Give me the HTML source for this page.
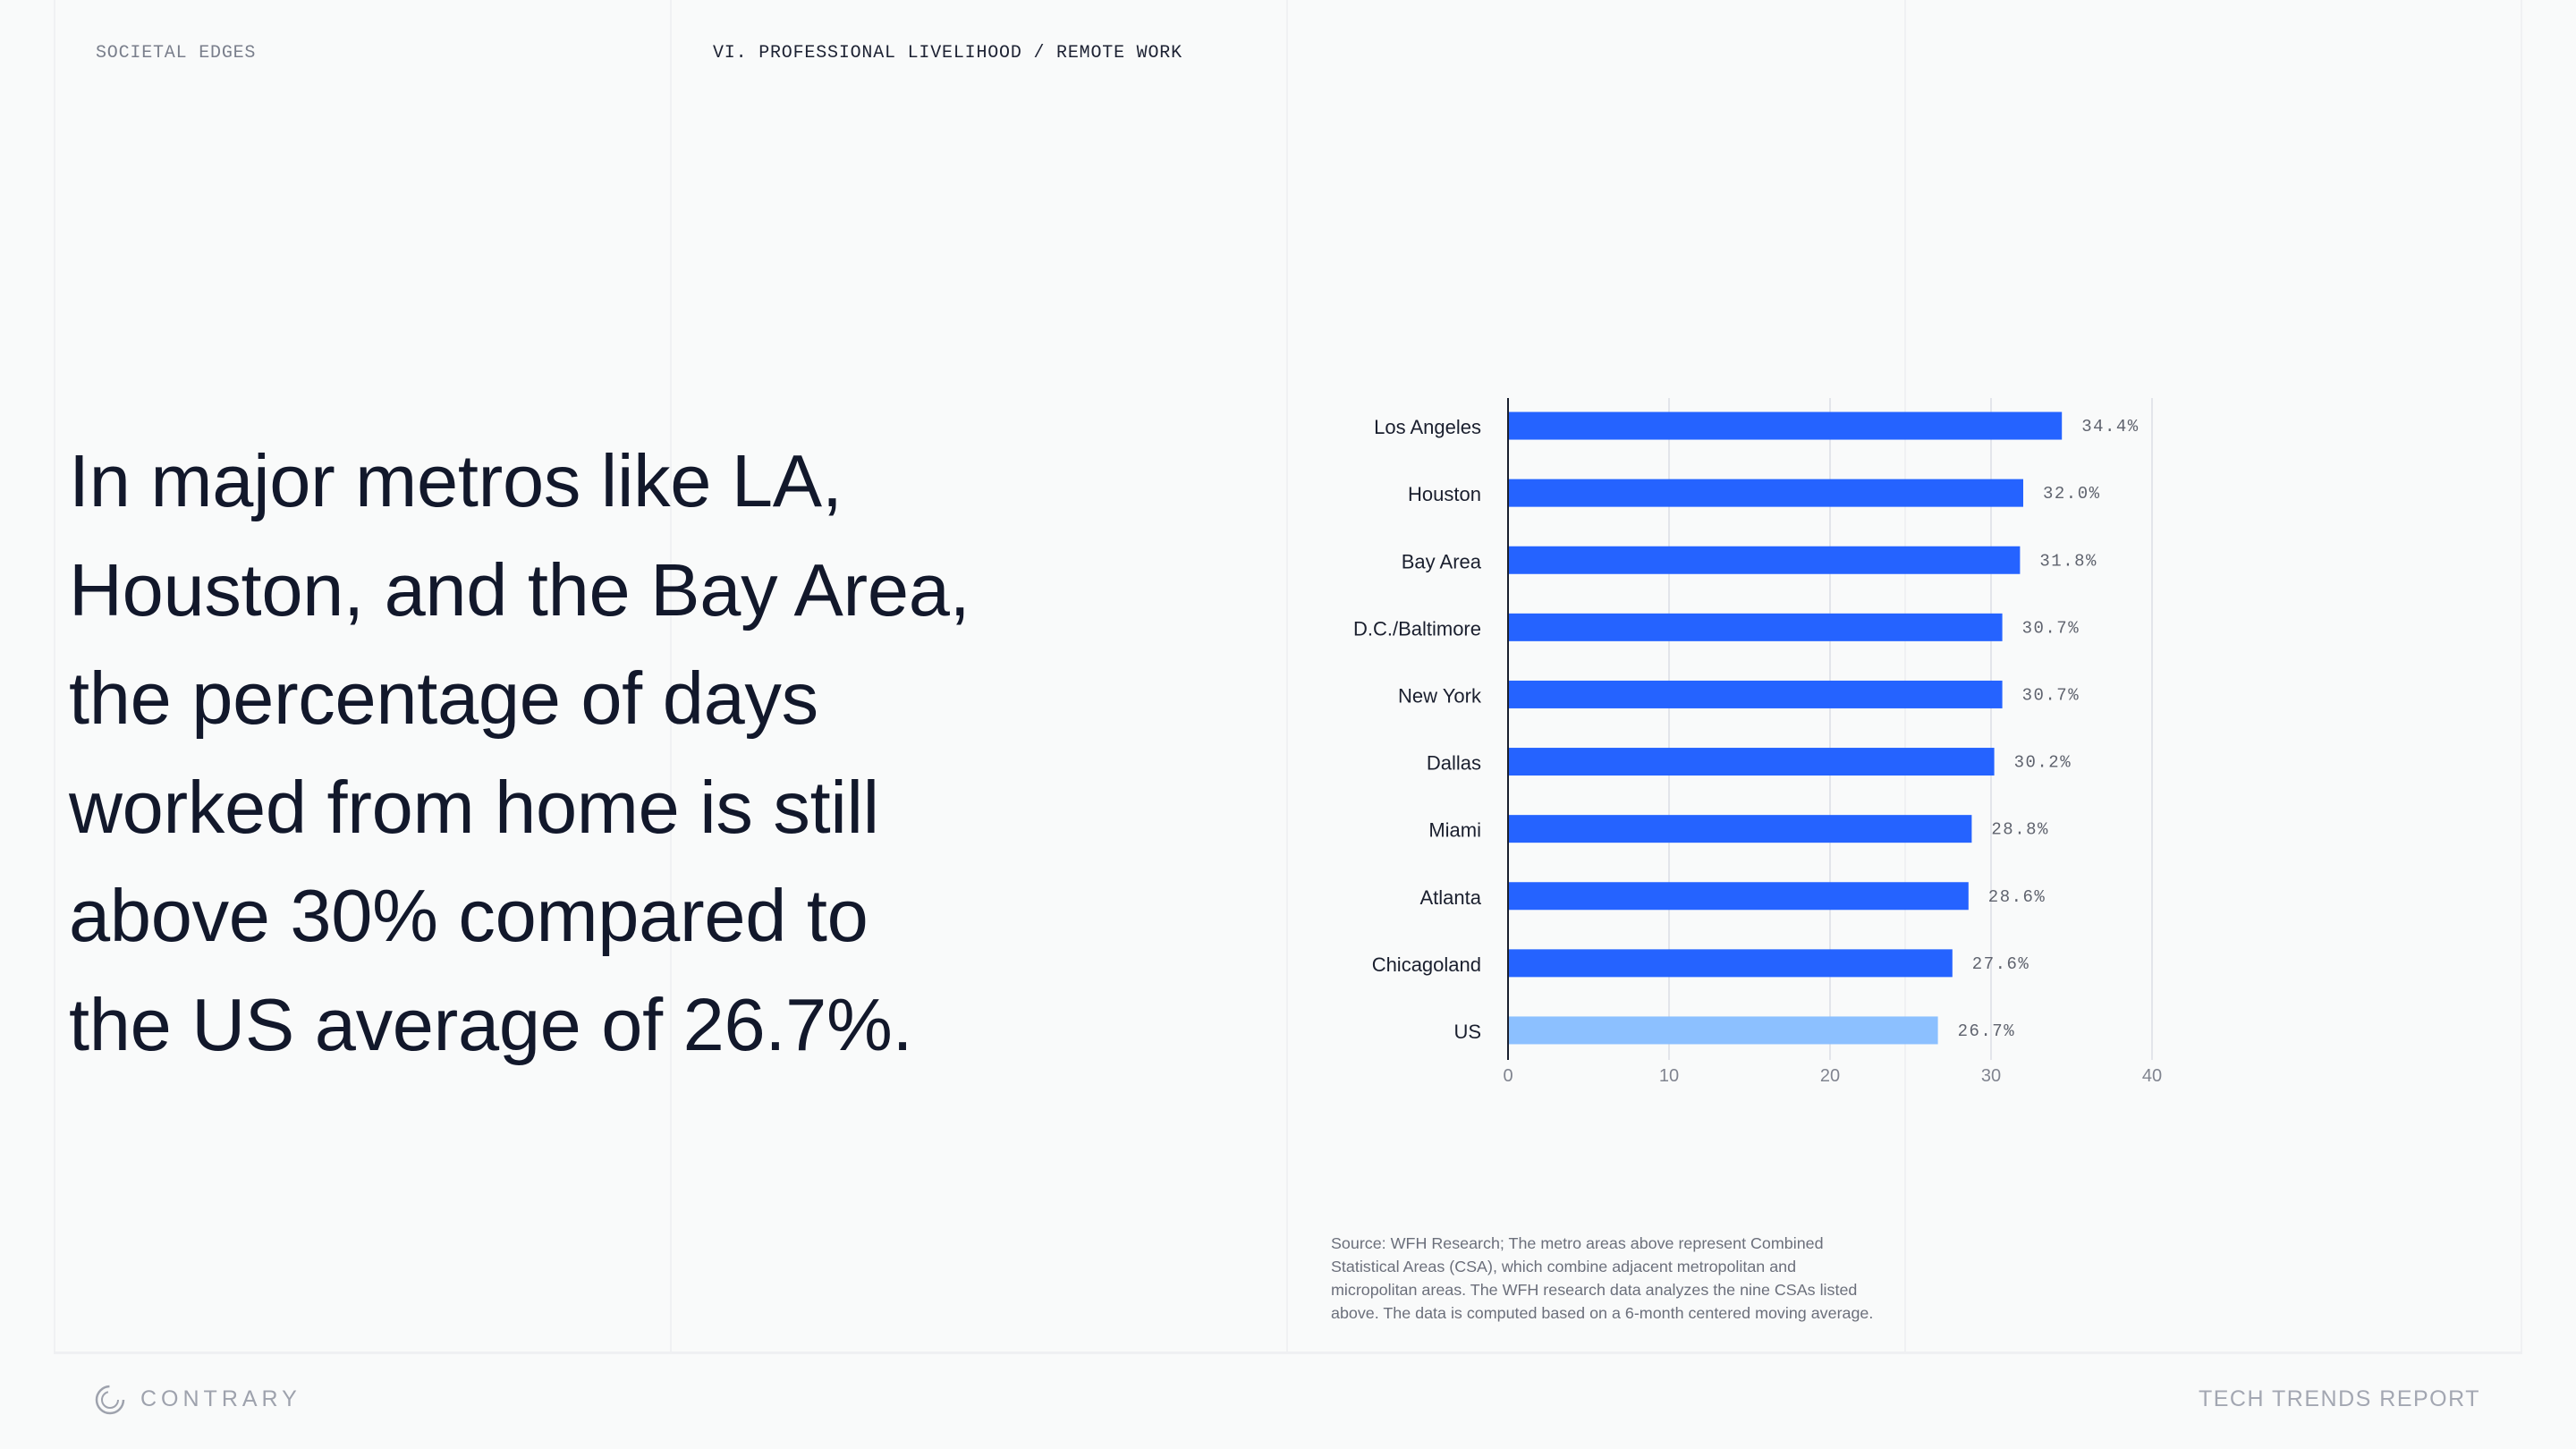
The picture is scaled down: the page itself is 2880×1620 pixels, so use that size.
<!DOCTYPE html>
<html><head><meta charset="utf-8"><style>
html,body{margin:0;padding:0}
body{width:2880px;height:1620px;background:#f9fafa;position:relative;overflow:hidden;font-family:"Liberation Sans",sans-serif}
.vl{position:absolute;top:0;width:2px;height:1512px;background:#f0f1f3}
.hdr{position:absolute;top:48px;font-family:"Liberation Mono",monospace;font-size:20px;letter-spacing:0.8px}
#headline{position:absolute;left:77px;top:477px;font-size:83px;line-height:121.5px;color:#12182b;letter-spacing:-0.3px}
#source{position:absolute;left:1488px;top:1377px;font-size:17.9px;line-height:26px;color:#6b6f7b;white-space:nowrap}
</style></head><body>
<div class="vl" style="left:60px"></div>
<div class="vl" style="left:749px"></div>
<div class="vl" style="left:1438px"></div>
<div class="vl" style="left:2129px"></div>
<div class="vl" style="left:2818px"></div>
<div style="position:absolute;left:60px;width:2760px;top:1511px;height:3px;background:#eff0f2"></div>
<div class="hdr" style="left:107px;color:#7a7f8c">SOCIETAL EDGES</div>
<div class="hdr" style="left:797px;color:#1d2233">VI. PROFESSIONAL LIVELIHOOD / REMOTE WORK</div>
<div id="headline">In major metros like LA,<br>Houston, and the Bay Area,<br>the percentage of days<br>worked from home is still<br>above 30% compared to<br>the US average of 26.7%.</div>
<svg id="chart" width="2880" height="1620" style="position:absolute;left:0;top:0"></svg>
<div id="source">Source: WFH Research; The metro areas above represent Combined<br>Statistical Areas (CSA), which combine adjacent metropolitan and<br>micropolitan areas. The WFH research data analyzes the nine CSAs listed<br>above. The data is computed based on a 6-month centered moving average.</div>
<svg style="position:absolute;left:105px;top:1547px" width="36" height="36"><circle cx="18" cy="18" r="15" fill="none" stroke="#9ea2ad" stroke-width="2.5" stroke-dasharray="70 30"/><circle cx="18" cy="18" r="9" fill="none" stroke="#9ea2ad" stroke-width="2" stroke-dasharray="40 20"/></svg>
<div style="position:absolute;left:157px;top:1550px;font-size:25px;letter-spacing:5px;color:#9ea2ad">CONTRARY</div>
<div style="position:absolute;right:107px;top:1550px;font-size:25px;letter-spacing:1.5px;color:#a3a7b2">TECH TRENDS REPORT</div>
<script>
const categories=["Los Angeles","Houston","Bay Area","D.C./Baltimore","New York","Dallas","Miami","Atlanta","Chicagoland","US"];
const values=[34.4,32.0,31.8,30.7,30.7,30.2,28.8,28.6,27.6,26.7];
const valueLabels=["34.4%","32.0%","31.8%","30.7%","30.7%","30.2%","28.8%","28.6%","27.6%","26.7%"];
const ticks=[0,10,20,30,40];
const svg=document.getElementById('chart');
const NS='http://www.w3.org/2000/svg';
const x0=1686,xMax=40,xW=720,yTop=445,yBot=1185,rowTop=438.5,pitch=75.1,barH=31;
const xs=v=>x0+v/xMax*xW;
const yc=i=>rowTop+pitch*(i+0.5);
function mk(t,a){const e=document.createElementNS(NS,t);for(const k in a)e.setAttribute(k,a[k]);svg.appendChild(e);return e;}
ticks.forEach(t=>{
  if(t>0){const g=mk('line',{x1:xs(t),x2:xs(t),y1:yTop,y2:yBot,stroke:'#e3e5ea','stroke-width':2});
  
  }
  const l=mk('text',{x:xs(t),y:yBot+24,'text-anchor':'middle','font-family':'Liberation Sans, sans-serif','font-size':20,fill:'#80848f'});
  l.textContent=t;
  
  
});
categories.forEach((c,i)=>{
  const b=mk('rect',{x:x0,y:yc(i)-barH/2,width:xs(values[i])-x0,height:barH,fill:i===categories.length-1?'#8cc0ff':'#2563ff'});
  
  
  const t=mk('text',{x:1656,y:yc(i)+9,'text-anchor':'end','font-family':'Liberation Sans, sans-serif','font-size':22,fill:'#1a1f2e'});
  t.textContent=c;
  
  
  const v=mk('text',{x:xs(values[i])+22,y:yc(i)+6,'font-family':'Liberation Mono, monospace','font-size':19,fill:'#5f636e','letter-spacing':1.5});
  v.textContent=valueLabels[i];
  
  
});
const ax=mk('line',{x1:x0,x2:x0,y1:yTop,y2:yBot,stroke:'#1a1f2e','stroke-width':2});


</script>
</body></html>
